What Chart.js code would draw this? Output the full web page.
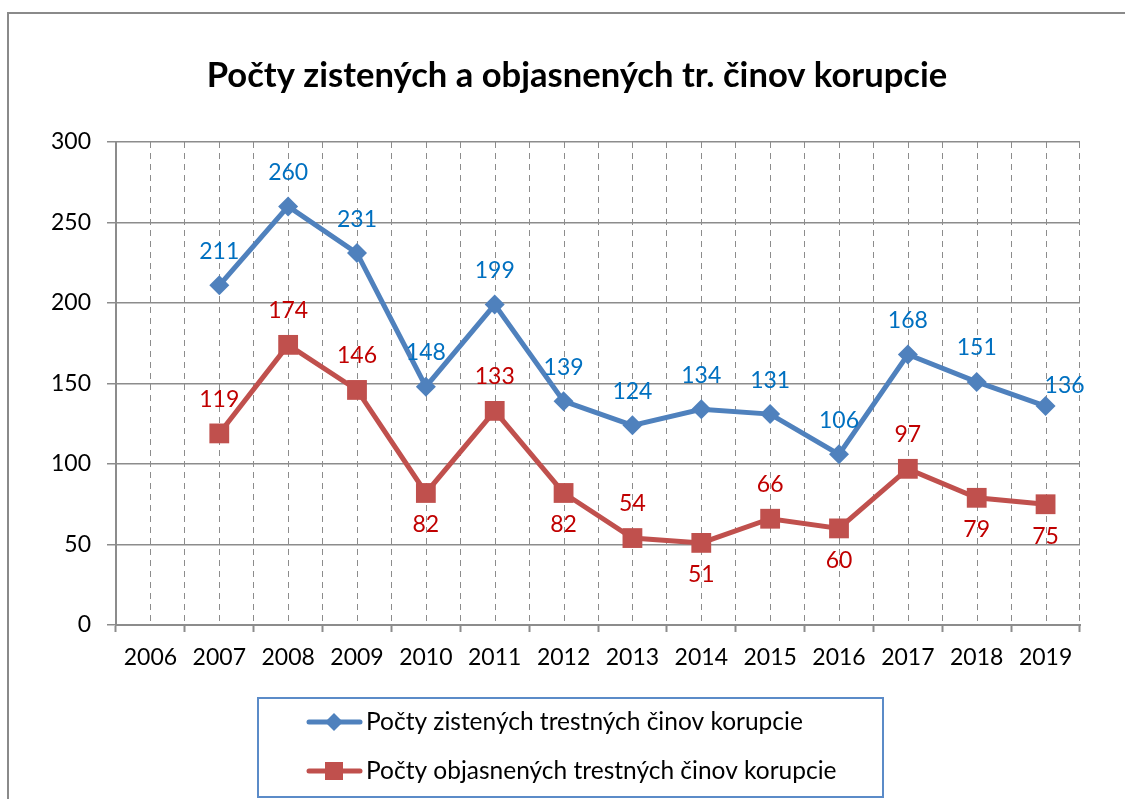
<!DOCTYPE html>
<html lang="sk">
<head>
<meta charset="UTF-8">
<title>Počty zistených a objasnených tr. činov korupcie</title>
<style>
  html, body { margin: 0; padding: 0; background: #fff; }
</style>
</head>
<body>
<canvas id="myChart" width="1125" height="799"></canvas>
<script src="https://cdn.jsdelivr.net/npm/chart.js"></script>
<script>
// data
const years = ['2006','2007','2008','2009','2010','2011','2012','2013','2014','2015','2016','2017','2018','2019'];
const zistene = [null,211,260,231,148,199,139,124,134,131,106,168,151,136];
const objasnene = [null,119,174,146,82,133,82,54,51,66,60,97,79,75];
const yTickValues = [0,50,100,150,200,250,300];
const chartTitle = 'Počty zistených a objasnených tr. činov korupcie';

// where each value label sits relative to its point
const zisteneLabelPos = ['top','top','top','top','top','top','top','top','top','top','top','top','top','topRight'];
const objasneneLabelPos = ['top','top','top','top','bottom','top','bottom','top','bottom','top','bottom','top','bottom','bottom'];

const FONT = 'Lato, "Open Sans", sans-serif';
const BLUE = '#4F81BD', RED = '#C0504D';
const GRID = '#8c8c8c';

// outer frame, white background and the title
const frame = {
    id: 'frame',
    beforeDraw(chart) {
        const {ctx, width, height} = chart;
        ctx.save();
        ctx.fillStyle = '#fff';
        ctx.fillRect(0, 0, width, height);
        ctx.strokeStyle = '#8a8a8a';
        ctx.lineWidth = 2;
        ctx.strokeRect(8, 13, width + 20, height + 20);
        ctx.fillStyle = '#000';
        ctx.font = 'bold 34.6px ' + FONT;
        ctx.textAlign = 'center';
        ctx.textBaseline = 'middle';
        ctx.fillText(chartTitle, 577, 76);
        ctx.restore();
    }
};

// dashed vertical lines at the category centres (boundaries come from the axis grid)
const centreLines = {
    id: 'centreLines',
    beforeDatasetsDraw(chart) {
        const {ctx, chartArea, scales: {x}} = chart;
        ctx.save();
        ctx.strokeStyle = GRID;
        ctx.lineWidth = 1;
        ctx.setLineDash([6, 5]);
        years.forEach((y, i) => {
            const px = Math.round(x.getPixelForValue(i)) + 0.5;
            ctx.beginPath();
            ctx.moveTo(px, chartArea.top);
            ctx.lineTo(px, chartArea.bottom);
            ctx.stroke();
        });
        ctx.restore();
    }
};

// value labels
const pointLabels = {
    id: 'pointLabels',
    afterDatasetsDraw(chart) {
        const {ctx} = chart;
        ctx.save();
        ctx.font = '23px ' + FONT;
        ctx.textAlign = 'center';
        ctx.textBaseline = 'middle';
        chart.data.datasets.forEach((ds, i) => {
            const meta = chart.getDatasetMeta(i);
            ctx.fillStyle = ds.labelColor;
            meta.data.forEach((pt, j) => {
                const v = ds.data[j];
                if (v == null) return;
                let dx = 0, dy = -34;
                if (ds.labelPos[j] === 'bottom') dy = 32;
                if (ds.labelPos[j] === 'topRight') { dx = 19; dy = -20; }
                ctx.fillText(String(v), pt.x + dx, pt.y + dy);
            });
        });
        ctx.restore();
    }
};

// boxed legend under the chart
const boxLegend = {
    id: 'boxLegend',
    afterDraw(chart) {
        const {ctx} = chart;
        ctx.save();
        ctx.strokeStyle = '#5B8BC8';
        ctx.lineWidth = 2;
        ctx.strokeRect(258, 698, 625, 99);
        ctx.font = '24.5px ' + FONT;
        ctx.textBaseline = 'middle';
        ctx.textAlign = 'left';
        const rows = [722, 771];
        chart.data.datasets.forEach((ds, i) => {
            const y = rows[i];
            ctx.strokeStyle = ds.borderColor;
            ctx.lineWidth = 5;
            ctx.lineCap = 'round';
            ctx.beginPath();
            ctx.moveTo(309, y);
            ctx.lineTo(360, y);
            ctx.stroke();
            ctx.fillStyle = ds.borderColor;
            if (ds.pointStyle === 'rectRot') {
                ctx.beginPath();
                ctx.moveTo(334, y - 9);
                ctx.lineTo(343, y);
                ctx.lineTo(334, y + 9);
                ctx.lineTo(325, y);
                ctx.closePath();
                ctx.fill();
            } else {
                ctx.fillRect(325, y - 9, 18, 18);
            }
            ctx.fillStyle = '#000';
            ctx.fillText(ds.label, 366, y);
        });
        ctx.restore();
    }
};

new Chart(document.getElementById('myChart').getContext('2d'), {
    type: 'line',
    data: {
        labels: years,
        datasets: [{
            label: 'Počty zistených trestných činov korupcie',
            data: zistene,
            borderColor: BLUE,
            backgroundColor: BLUE,
            borderWidth: 5,
            pointStyle: 'rectRot',
            pointRadius: 10,
            pointBorderWidth: 0,
            labelColor: '#0070C0',
            labelPos: zisteneLabelPos
        }, {
            label: 'Počty objasnených trestných činov korupcie',
            data: objasnene,
            borderColor: RED,
            backgroundColor: RED,
            borderWidth: 5,
            pointStyle: 'rect',
            pointRadius: 14,
            pointBorderWidth: 0,
            labelColor: '#C00000',
            labelPos: objasneneLabelPos
        }]
    },
    plugins: [frame, centreLines, pointLabels, boxLegend],
    options: {
        responsive: false,
        animation: false,
        layout: { padding: { left: 0, right: 45, top: 142, bottom: 124 } },
        plugins: {
            legend: { display: false },
            tooltip: { enabled: false },
            title: { display: false }
        },
        scales: {
            x: {
                offset: true,
                grid: {
                    offset: true,
                    color: GRID,
                    lineWidth: 1,
                    drawTicks: true,
                    tickLength: 7,
                    tickColor: GRID,
                    tickWidth: 2,
                    tickBorderDash: []
                },
                border: { display: true, color: GRID, width: 2, dash: [6, 5] },
                ticks: { color: '#000', font: { family: FONT, size: 23 }, padding: 12, maxRotation: 0, autoSkip: false },
                afterFit(scale) { scale.height = 50; }
            },
            y: {
                min: 0,
                max: 300,
                afterBuildTicks(scale) { scale.ticks = yTickValues.map(v => ({value: v})); },
                grid: { color: GRID, lineWidth: 1.5, tickLength: 9, tickColor: GRID },
                border: { display: true, color: GRID, width: 2 },
                ticks: { color: '#000', font: { family: FONT, size: 23 }, padding: 16 },
                afterFit(scale) { scale.width = 116; }
            }
        }
    }
});
</script>
</body>
</html>
